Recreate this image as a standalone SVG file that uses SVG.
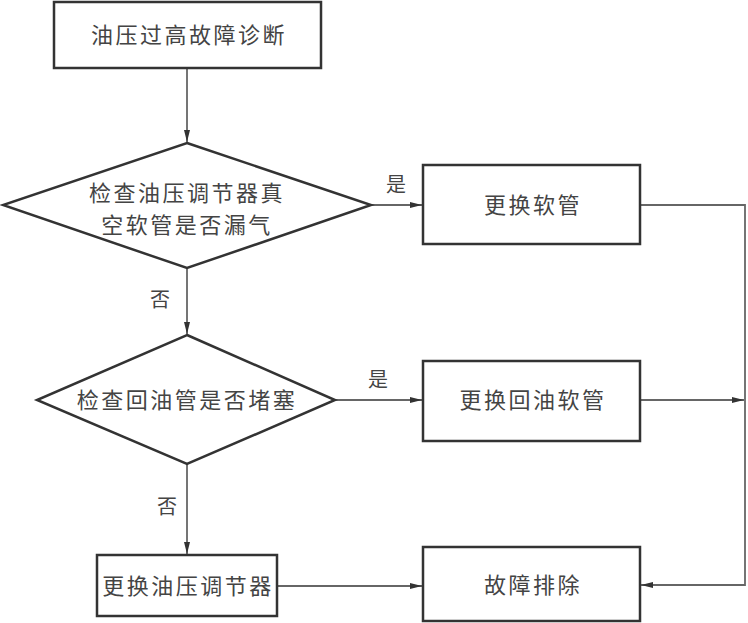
<svg xmlns="http://www.w3.org/2000/svg" width="748" height="623" viewBox="0 0 748 623">
<style>
.box{fill:#fff;stroke:#333;stroke-width:2.5}
.t{font-family:"Liberation Serif","Noto Sans CJK SC",serif;font-size:22px;fill:#444;text-anchor:middle;letter-spacing:2.5px}
.lbl{font-family:"Liberation Serif","Noto Sans CJK SC",serif;font-size:20px;fill:#444;text-anchor:middle}
.c{fill:none;stroke:#666;stroke-width:1.8}
</style>
<defs>
<marker id="ah" viewBox="0 0 12 6" refX="12" refY="3" markerWidth="12" markerHeight="6" markerUnits="userSpaceOnUse" orient="auto">
<path d="M0,0 L12,3 L0,6 Z" fill="#333"/>
</marker>
</defs>
<rect width="748" height="623" fill="#fff"/>
<g id="connectors">
<line class="c" x1="187" y1="68" x2="187" y2="142" marker-end="url(#ah)"/>
<line class="c" x1="187" y1="268" x2="187" y2="334" marker-end="url(#ah)"/>
<line class="c" x1="187" y1="464" x2="187" y2="554" marker-end="url(#ah)"/>
<line class="c" x1="371" y1="205" x2="422" y2="205" marker-end="url(#ah)"/>
<line class="c" x1="335" y1="400" x2="422" y2="400" marker-end="url(#ah)"/>
<line class="c" x1="277" y1="586" x2="422" y2="586" marker-end="url(#ah)"/>
<polyline class="c" points="640,205 745,205 745,585 641,585" marker-end="url(#ah)"/>
<line class="c" x1="640" y1="400" x2="744" y2="400" marker-end="url(#ah)"/>
<text class="lbl" x="396" y="192">是</text>
<text class="lbl" x="378" y="387">是</text>
<text class="lbl" x="160" y="307">否</text>
<text class="lbl" x="167" y="514">否</text>
</g>
<g id="start">
<rect class="box" x="54" y="2" width="267" height="66"/>
<text class="t" x="189" y="43">油压过高故障诊断</text>
</g>
<g id="check1">
<polygon class="box" points="187,143 371,205 187,268 3,205"/>
<text class="t" x="187" y="201">检查油压调节器真</text>
<text class="t" x="187" y="233">空软管是否漏气</text>
</g>
<g id="check2">
<polygon class="box" points="187,335 335,400 187,464 37,400"/>
<text class="t" x="187" y="408">检查回油管是否堵塞</text>
</g>
<g id="replaceHose">
<rect class="box" x="423" y="165" width="217" height="79"/>
<text class="t" x="533" y="213">更换软管</text>
</g>
<g id="replaceReturnHose">
<rect class="box" x="423" y="361" width="217" height="80"/>
<text class="t" x="533" y="408">更换回油软管</text>
</g>
<g id="replaceRegulator">
<rect class="box" x="97" y="555" width="180" height="61"/>
<text class="t" x="188" y="594">更换油压调节器</text>
</g>
<g id="resolved">
<rect class="box" x="423" y="547" width="217" height="74"/>
<text class="t" x="533" y="593">故障排除</text>
</g>
</svg>
